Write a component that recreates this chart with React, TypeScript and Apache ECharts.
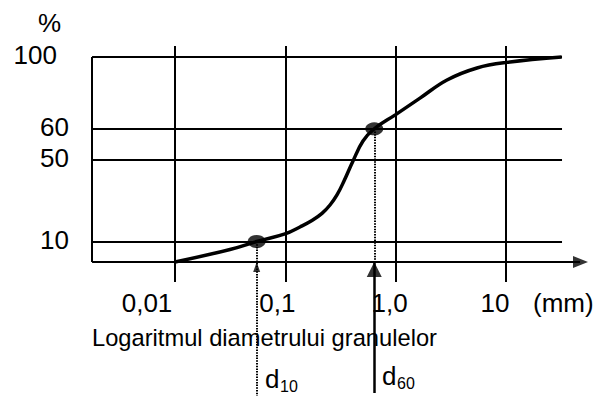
import React, { useEffect, useRef } from 'react';
import * as echarts from 'echarts';

// Grain size distribution curve: diameter (mm) vs. percent passing
const grainSizeMm = [0.01, 0.0315, 0.055, 0.0993, 0.1358, 0.1744, 0.215, 0.2541, 0.2939, 0.3402, 0.4106, 0.5058, 0.64, 1.0, 1.662, 2.92, 5.46, 10.2, 32];
const passingPct = [0, 6.1, 10, 13.7, 17.1, 20.2, 23.7, 27.8, 32.7, 39.5, 49.3, 56.0, 60, 67.9, 77.1, 87.2, 93.9, 97.0, 100];

// Characteristic diameters
const keySubscripts = ['10', '60'];
const keySizeMm = [0.055, 0.64];
const keyPct = [10, 60];

// Axis ticks
const xTickValues = [0.01, 0.1, 1, 10];
const xTickLabels = ['0,01', '0,1', '1,0', '10'];
const yTickValues = [10, 50, 60, 100];
const yTickLabels = ['10', '50', '60', '100'];

const xAxisTitle = 'Logaritmul diametrului granulelor';
const xUnit = '(mm)';
const yUnit = '%';

// Schematic (non-linear) percent axis: knots percent -> drawn height
const pctKnots = [0, 50, 60, 100];
const drawnKnots = [0, 50, 65, 100];

function toDrawn(p: number): number {
  for (let i = 1; i < pctKnots.length; i++) {
    if (p <= pctKnots[i]) {
      const t = (p - pctKnots[i - 1]) / (pctKnots[i] - pctKnots[i - 1]);
      return drawnKnots[i - 1] + t * (drawnKnots[i] - drawnKnots[i - 1]);
    }
  }
  return drawnKnots[drawnKnots.length - 1];
}

const FONT = "'Liberation Sans', Arial, sans-serif";
const X_MIN = Math.pow(10, -2.7523);
const X_MAX = Math.pow(10, 1.7433);
const Y_MIN = -66.83;
const Y_MAX = 105.37;
const H_LINE_END = 32.2;
const V_LINE_LOW = -9.76;
const AXIS_LINE_END = 46.9;
const D_LINE_LOW = [-65.4, -63.9];

export default function App() {
  const ref = useRef<HTMLDivElement>(null);

  useEffect(() => {
    if (!ref.current) return;
    const chart = echarts.init(ref.current, undefined, { renderer: 'svg' });
    const xl = X_MIN * 1.001;
    const yTop = Y_MAX - 0.05;

    const frameLines: any[] = [];
    yTickValues.forEach((v) => {
      frameLines.push([{ coord: [xl, toDrawn(v)] }, { coord: [H_LINE_END, toDrawn(v)] }]);
    });
    xTickValues.forEach((v) => {
      frameLines.push([{ coord: [v, V_LINE_LOW] }, { coord: [v, yTop] }]);
    });
    frameLines.push([{ coord: [xl, 0] }, { coord: [xl, 100] }]);
    frameLines.push([{ coord: [xl, 0] }, { coord: [AXIS_LINE_END, 0] }]);

    const dLines: any[] = [
      [{ coord: [keySizeMm[0], toDrawn(keyPct[0])] }, { coord: [keySizeMm[0], D_LINE_LOW[0]] }],
      [{ coord: [keySizeMm[1], toDrawn(keyPct[1])] }, { coord: [keySizeMm[1], 0] }],
      [
        { coord: [keySizeMm[1], 0], lineStyle: { type: 'solid', width: 2.5, color: '#000' } },
        { coord: [keySizeMm[1], D_LINE_LOW[1]] },
      ],
    ];

    const xRich: any = {};
    const xPads = [56, 16, 12, 22];
    xPads.forEach((p, i) => {
      xRich['x' + i] = { fontSize: 26, fontFamily: FONT, color: '#000', padding: [0, p, 0, 0] };
    });

    const option: any = {
      animation: false,
      backgroundColor: '#ffffff',
      grid: { left: 92, right: 14, top: 46, bottom: 0, containLabel: false, outerBoundsMode: 'none' },
      xAxis: {
        type: 'log',
        min: X_MIN,
        max: X_MAX,
        position: 'bottom',
        offset: -137,
        axisLine: { show: false, onZero: false },
        axisTick: { show: false },
        splitLine: { show: false },
        axisLabel: {
          interval: 0,
          margin: 28,
          fontSize: 26,
          fontFamily: FONT,
          color: '#000',
          formatter: (v: number) => {
            const i = xTickValues.findIndex((t) => Math.abs(Math.log10(t) - Math.log10(v)) < 1e-6);
            return i < 0 ? '' : `{x${i}|${xTickLabels[i]}}`;
          },
          rich: xRich,
        },
      },
      yAxis: {
        type: 'value',
        min: Y_MIN,
        max: Y_MAX,
        axisLine: { show: false },
        axisTick: { show: false },
        splitLine: { show: false },
        axisLabel: {
          customValues: yTickValues.map(toDrawn),
          margin: 23,
          fontSize: 26,
          fontFamily: FONT,
          color: '#000',
          formatter: (v: number) => {
            const i = yTickValues.findIndex((t) => Math.abs(toDrawn(t) - v) < 1e-6);
            if (i < 0) return '';
            const lab = yTickLabels[i];
            return `{${lab.length > 2 ? 'w' : 'n'}|${lab}}`;
          },
          rich: {
            n: { fontSize: 26, fontFamily: FONT, color: '#000', padding: [0, 0, 3, 0] },
            w: { fontSize: 26, fontFamily: FONT, color: '#000', padding: [0, 12, 5, 0] },
          },
        },
      },
      series: [
        {
          name: 'frame',
          type: 'line',
          data: [],
          z: 1,
          silent: true,
          markLine: {
            silent: true,
            symbol: 'none',
            label: { show: false },
            lineStyle: { color: '#000', width: 2, type: 'solid' },
            emphasis: { disabled: true },
            data: frameLines,
          },
        },
        {
          name: 'dlines',
          type: 'line',
          data: [],
          z: 2,
          silent: true,
          markLine: {
            silent: true,
            symbol: 'none',
            label: { show: false },
            lineStyle: { color: '#000', width: 2, type: [1.5, 1.2] },
            emphasis: { disabled: true },
            data: dLines,
          },
        },
        {
          name: 'curve',
          type: 'line',
          z: 3,
          smooth: 0.4,
          showSymbol: false,
          silent: true,
          lineStyle: { color: '#000', width: 3.5 },
          data: grainSizeMm.map((x, i) => [x, toDrawn(passingPct[i])]),
        },
        {
          name: 'keys',
          type: 'scatter',
          z: 4,
          silent: true,
          symbol: 'circle',
          symbolSize: [18, 13],
          itemStyle: { color: '#000' },
          data: keySizeMm.map((x, i) => [x, toDrawn(keyPct[i])]),
        },
        {
          name: 'arrows',
          type: 'scatter',
          z: 4,
          silent: true,
          clip: false,
          symbol: 'triangle',
          itemStyle: { color: '#000' },
          data: [
            { value: [keySizeMm[0], 0], symbolSize: [7, 10], symbolOffset: [0, 5] },
            { value: [keySizeMm[1], 0], symbolSize: [15, 15], symbolOffset: [0, 7.5] },
            { value: [X_MAX, 0], symbolSize: [12, 15], symbolRotate: -90, symbolOffset: [-7.5, 0] },
          ],
        },
      ],
      graphic: [
        { type: 'text', x: 38, y: 10, style: { text: yUnit, fontSize: 26, fontFamily: FONT, fill: '#000' } },
        { type: 'text', x: 533, y: 290, style: { text: xUnit, fontSize: 26, fontFamily: FONT, fill: '#000' } },
        { type: 'text', x: 92, y: 326, style: { text: xAxisTitle, fontSize: 23.7, fontFamily: FONT, fill: '#000' } },
        { type: 'text', x: 265, y: 366, style: { text: 'd', fontSize: 26, fontFamily: FONT, fill: '#000' } },
        { type: 'text', x: 280, y: 378, style: { text: keySubscripts[0], fontSize: 16, fontFamily: FONT, fill: '#000' } },
        { type: 'text', x: 382, y: 363, style: { text: 'd', fontSize: 26, fontFamily: FONT, fill: '#000' } },
        { type: 'text', x: 397, y: 375, style: { text: keySubscripts[1], fontSize: 16, fontFamily: FONT, fill: '#000' } },
      ],
    };
    chart.setOption(option);
    return () => chart.dispose();
  }, []);

  return (
    <div
      ref={ref}
      style={{ position: 'absolute', left: 0, top: 0, width: 602, height: 399, background: '#fff' }}
    />
  );
}
